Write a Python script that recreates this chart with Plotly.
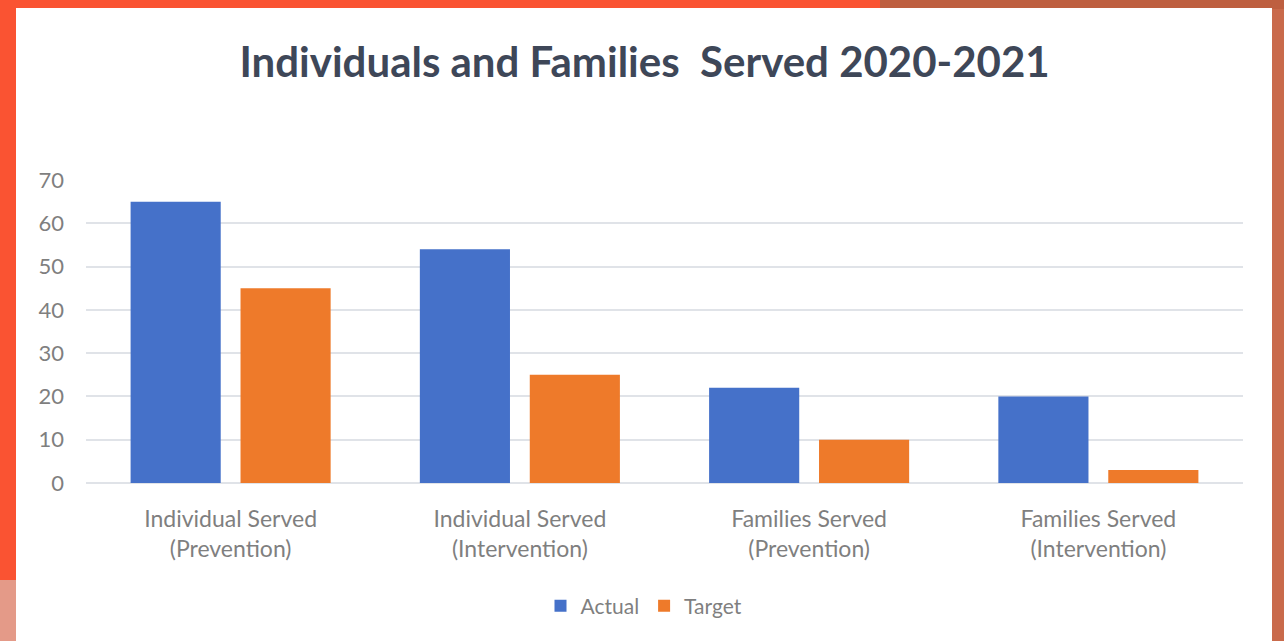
import plotly.graph_objects as go

categories = [
    "Individual Served<br>(Prevention)",
    "Individual Served<br>(Intervention)",
    "Families Served<br>(Prevention)",
    "Families Served<br>(Intervention)",
]
actual = [65, 54, 22, 20]
target = [45, 25, 10, 3]
y_ticks = [0, 10, 20, 30, 40, 50, 60, 70]

BLUE = "#4571C9"
ORANGE = "#EE7A2A"
TEXT_GREY = "#7F7F7F"
GRID = "#E0E3E8"

W, H = 1284, 641
ML, MR, MT, MB = 86, 41, 180, 158
PW, PH = W - ML - MR, H - MT - MB


def px_x(p):
    return (p - ML) / PW


def px_y(p):
    return (H - MB - p) / PH


fig = go.Figure()
fig.add_trace(go.Bar(name="Actual", x=categories, y=actual,
                     marker=dict(color=BLUE, line=dict(width=0))))
fig.add_trace(go.Bar(name="Target", x=categories, y=target,
                     marker=dict(color=ORANGE, line=dict(width=0))))

# slide backdrop and the white chart card on top of it
shapes = [
    dict(type="rect", xref="paper", yref="paper", x0=px_x(1272), x1=px_x(1300),
         y0=px_y(660), y1=px_y(-20),
         fillcolor="#C96A4B", line=dict(width=0), layer="below"),
    dict(type="rect", xref="paper", yref="paper", x0=px_x(880), x1=px_x(1300),
         y0=px_y(9), y1=px_y(-20),
         fillcolor="#BE5F40", line=dict(width=0), layer="below"),
    dict(type="rect", xref="paper", yref="paper", x0=px_x(-20), x1=px_x(16),
         y0=px_y(660), y1=px_y(580),
         fillcolor="#E49A88", line=dict(width=0), layer="below"),
    dict(type="rect", xref="paper", yref="paper", x0=px_x(16), x1=px_x(1272),
         y0=px_y(660), y1=px_y(8),
         fillcolor="white", line=dict(width=0), layer="below"),
]

fig.update_layout(
    width=W, height=H,
    margin=dict(l=ML, r=MR, t=MT, b=MB, autoexpand=False),
    paper_bgcolor="#FA5332",
    plot_bgcolor="white",
    shapes=shapes,
    title=dict(
        text="<b>Individuals and Families  Served 2020-2021</b>",
        xref="container", x=0.502, xanchor="center",
        yref="container", y=1 - 62 / H, yanchor="middle",
        font=dict(family="Lato, Open Sans, sans-serif", size=42, color="#3E4758"),
    ),
    barmode="group",
    bargap=0.24,
    bargroupgap=0.18,
    showlegend=True,
    legend=dict(
        orientation="h", xref="container", x=644 / W, xanchor="center",
        yref="container", y=1 - 606 / H, yanchor="middle",
        font=dict(family="Lato, Open Sans, sans-serif", size=21, color=TEXT_GREY),
        itemwidth=30, traceorder="normal", bgcolor="rgba(0,0,0,0)",
    ),
    font=dict(family="Lato, Open Sans, sans-serif", color=TEXT_GREY),
)

fig.update_xaxes(
    showgrid=False, showline=False, zeroline=False,
    tickfont=dict(size=23, color=TEXT_GREY),
    ticks="", ticklabelstandoff=20,
)
fig.update_yaxes(
    range=[0, 70], tickvals=y_ticks, ticktext=[str(v) for v in y_ticks],
    showgrid=True, gridcolor=GRID, gridwidth=2,
    zeroline=True, zerolinecolor=GRID, zerolinewidth=2,
    showline=False, ticks="",
    tickfont=dict(size=22, color=TEXT_GREY),
    ticklabelstandoff=21,
)

fig.write_html("out.html")
